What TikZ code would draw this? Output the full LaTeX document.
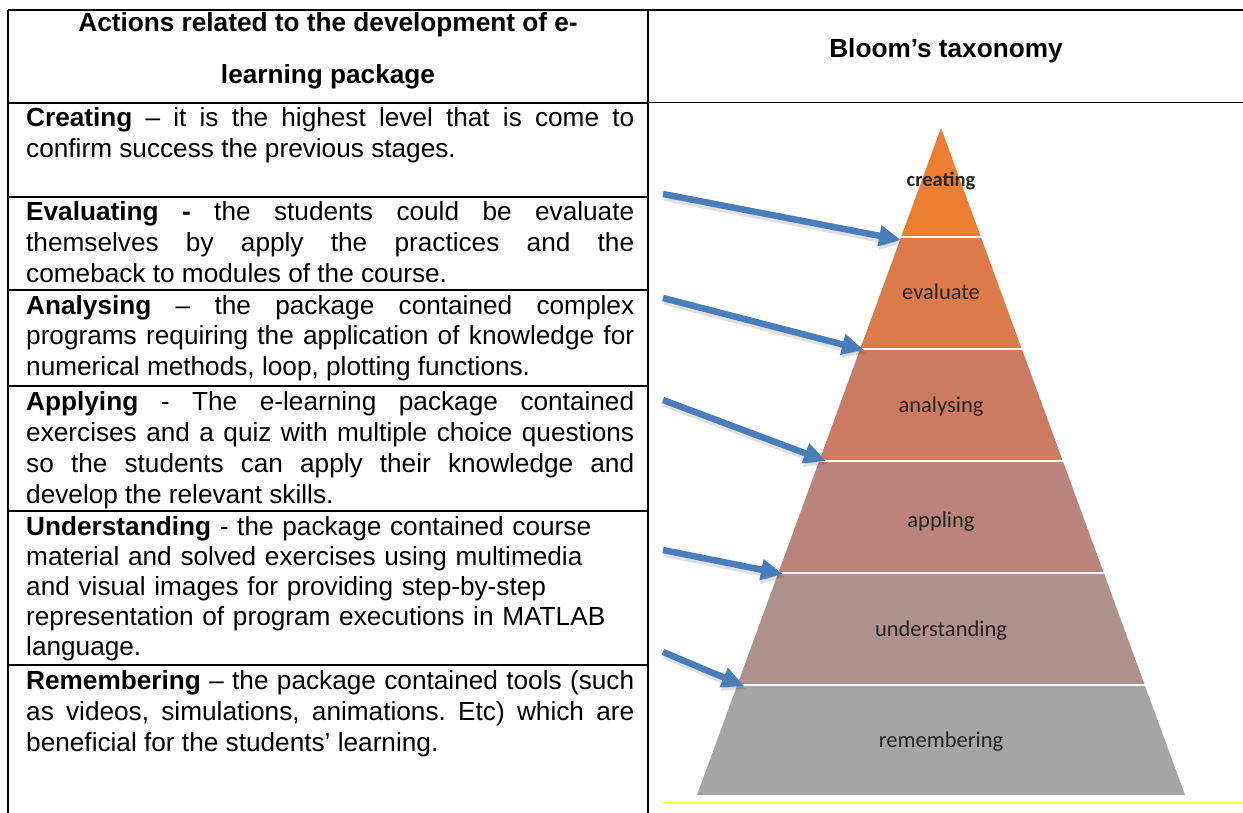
\documentclass[tikz,border=0pt]{standalone}
\usepackage{fontspec}
\setmainfont{Liberation Sans}
\newfontfamily\calib{Carlito}
\usetikzlibrary{arrows.meta}
\frenchspacing
\definecolor{lvA}{HTML}{ED7D31}
\definecolor{lvB}{HTML}{DC7A4A}
\definecolor{lvC}{HTML}{CB7B62}
\definecolor{lvD}{HTML}{BB847A}
\definecolor{lvE}{HTML}{AF918E}
\definecolor{lvF}{HTML}{A5A5A5}
\definecolor{arrblue}{HTML}{4A7EBB}
\definecolor{ylw}{HTML}{FFFF3C}
\tikzset{
  rule/.style={line width=1.6pt, black},
  thinrule/.style={line width=1pt, black},
  cell/.style={anchor=base west, inner sep=0pt, text width=608pt, align=justify,
    font=\fontsize{26.2}{31}\selectfont},
  cellrag/.style={cell, align=left, font=\fontsize{26.2}{30}\selectfont},
  head/.style={anchor=base, inner sep=0pt, font=\fontsize{26.2}{31}\selectfont\bfseries},
  lvl/.style={anchor=base, inner sep=0pt, text=black!85, font=\calib\fontsize{22.5}{26}\selectfont},
  sep/.style={white, line width=1.6pt},
  blue arrow/.style={arrblue, line width=6.5pt, -{Triangle[length=22pt,width=20pt]}},
  arrow shade/.style={black, opacity=0.12, line width=8pt, -{Triangle[length=22pt,width=21pt]}}
}
\begin{document}
\begin{tikzpicture}[x=1pt,y=-1pt]
\useasboundingbox (0,0) rectangle (1243,813);
\fill[white] (0,0) rectangle (1243,813);

% table frame
\draw[rule] (8,10) -- (1243,10);
\draw[rule] (8,10) -- (8,813);
\draw[rule] (648,10) -- (648,813);
\draw[rule] (8,103) -- (648,103);
\draw[thinrule] (648,103) -- (1243,103);
\foreach \yy in {197,290,386,511,665} \draw[rule] (8,\yy) -- (648,\yy);

% headers
\node[head] (h1) at (328,32) {Actions related to the development of e-};
\node[head] (h2) at (328,84) {learning package};
\node[head] (h3) at (946,58) {Bloom’s taxonomy};

% left column text
\node[cell] (tcre) at (26,127) {\textbf{Creating} – it is the highest level that is come to\linebreak confirm success the previous stages.};
\node[cell] (teva) at (26,221) {\textbf{Evaluating -} the students could be evaluate\linebreak themselves by apply the practices and the\linebreak comeback to modules of the course.};
\node[cell] (tana) at (26,314) {\textbf{Analysing} – the package contained complex\linebreak programs requiring the application of knowledge for\linebreak numerical methods, loop, plotting functions.};
\node[cell] (tapp) at (26,410) {\textbf{Applying} - The e-learning package contained\linebreak exercises and a quiz with multiple choice questions\linebreak so the students can apply their knowledge and\linebreak develop the relevant skills.};
\node[cellrag] (tund) at (26,535) {\textbf{Understanding} - the package contained course\\ material and solved exercises using multimedia\\ and visual images for providing step-by-step\\ representation of program executions in MATLAB\\ language.};
\node[cell] (trem) at (26,689) {\textbf{Remembering} – the package contained tools (such\linebreak as videos, simulations, animations. Etc) which are\linebreak beneficial for the students’ learning.};

% pyramid corners
\coordinate (apex) at (941,128);
\coordinate (l1) at (901.1,237); \coordinate (r1) at (980.9,237);
\coordinate (l2) at (860.2,349); \coordinate (r2) at (1021.8,349);
\coordinate (l3) at (819.2,461); \coordinate (r3) at (1062.8,461);
\coordinate (l4) at (778.2,573); \coordinate (r4) at (1103.8,573);
\coordinate (l5) at (737.3,685); \coordinate (r5) at (1144.7,685);
\coordinate (l6) at (697,795);   \coordinate (r6) at (1185,795);

\fill[lvA] (apex) -- (r1) -- (l1) -- cycle;
\fill[lvB] (l1) -- (r1) -- (r2) -- (l2) -- cycle;
\fill[lvC] (l2) -- (r2) -- (r3) -- (l3) -- cycle;
\fill[lvD] (l3) -- (r3) -- (r4) -- (l4) -- cycle;
\fill[lvE] (l4) -- (r4) -- (r5) -- (l5) -- cycle;
\fill[lvF] (l5) -- (r5) -- (r6) -- (l6) -- cycle;
\draw[sep] (l1) -- (r1);
\draw[sep] (l2) -- (r2);
\draw[sep] (l3) -- (r3);
\draw[sep] (l4) -- (r4);
\draw[sep] (l5) -- (r5);

\node[lvl, font=\calib\bfseries\fontsize{20.5}{24}\selectfont] (pcre) at (941,187) {creating};
\node[lvl] (peva) at (941,300) {evaluate};
\node[lvl] (pana) at (941,412) {analysing};
\node[lvl] (papp) at (941,527) {appling};
\node[lvl] (pund) at (941,636) {understanding};
\node[lvl] (prem) at (941,747) {remembering};

% yellow rule
\coordinate (y1) at (663,803); \coordinate (y2) at (1243,803);
\draw[ylw, line width=1.2pt] (y1) -- (y2);

% arrows
\coordinate (s1) at (663,194); \coordinate (e1) at (901,240);
\coordinate (s2) at (663,298); \coordinate (e2) at (864,350);
\coordinate (s3) at (663,400); \coordinate (e3) at (826,461);
\coordinate (s4) at (663,550); \coordinate (e4) at (783,574);
\coordinate (s5) at (663,652); \coordinate (e5) at (744,686);
\foreach \i in {1,...,5} {
  \draw[arrow shade, transform canvas={shift={(1.5pt,-3pt)}}] (s\i) -- (e\i);
  \draw[blue arrow] (s\i) -- (e\i);
}
\end{tikzpicture}
\end{document}
